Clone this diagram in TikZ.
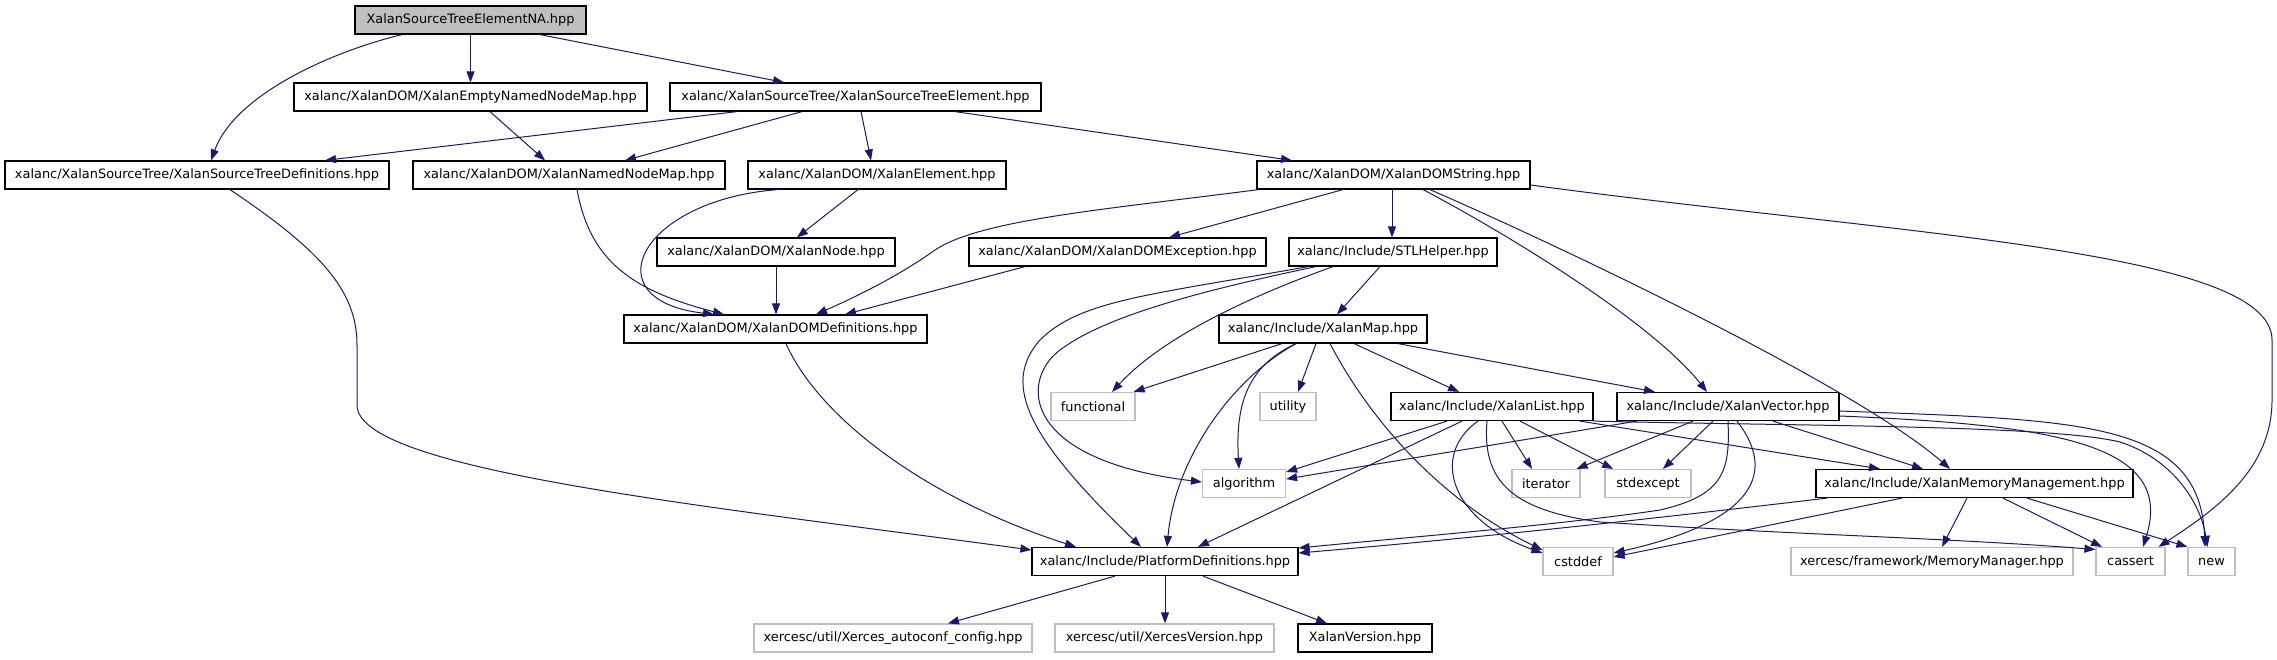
\documentclass[tikz,border=0pt]{standalone}
\usepackage{fontspec}
\setmainfont{DejaVu Sans}
\usetikzlibrary{arrows.meta}
\definecolor{edgec}{HTML}{191970}
\definecolor{graybd}{HTML}{BFBFBF}
\begin{document}
\begin{tikzpicture}[x=1pt,y=-1pt,
 hdr/.style={draw=black, line width=1.2pt, fill=white, minimum height=28pt, inner sep=0pt, font=\fontsize{12.9}{15}\selectfont},
 sys/.style={hdr, draw=graybd},
 rootbox/.style={hdr, fill=graybd},
 e/.style={draw=edgec, line width=1pt, -{Triangle[length=11pt,width=8pt]}}]
\useasboundingbox (0,0) rectangle (2277,659);

% nodes
\node[rootbox, minimum width=231pt] (root) at (470.5,20) {XalanSourceTreeElementNA.hpp};
\node[hdr, minimum width=353pt] (empty) at (470.5,97) {xalanc/XalanDOM/XalanEmptyNamedNodeMap.hpp};
\node[hdr, minimum width=371pt] (ste) at (855.5,97) {xalanc/XalanSourceTree/XalanSourceTreeElement.hpp};
\node[hdr, minimum width=384pt] (stdefs) at (197,175) {xalanc/XalanSourceTree/XalanSourceTreeDefinitions.hpp};
\node[hdr, minimum width=312pt] (nnm) at (569,175) {xalanc/XalanDOM/XalanNamedNodeMap.hpp};
\node[hdr, minimum width=258pt] (elem) at (877,175) {xalanc/XalanDOM/XalanElement.hpp};
\node[hdr, minimum width=273pt] (domstr) at (1393.5,175) {xalanc/XalanDOM/XalanDOMString.hpp};
\node[hdr, minimum width=238pt] (xnode) at (776,252) {xalanc/XalanDOM/XalanNode.hpp};
\node[hdr, minimum width=297pt] (domexc) at (1117.5,252) {xalanc/XalanDOM/XalanDOMException.hpp};
\node[hdr, minimum width=208pt] (stl) at (1393,252) {xalanc/Include/STLHelper.hpp};
\node[hdr, minimum width=303pt] (domdefs) at (775.5,329) {xalanc/XalanDOM/XalanDOMDefinitions.hpp};
\node[hdr, minimum width=208pt] (map) at (1323,329) {xalanc/Include/XalanMap.hpp};
\node[sys, minimum width=84pt] (functional) at (1093,406.5) {functional};
\node[sys, minimum width=56pt] (utility) at (1288,406.5) {utility};
\node[hdr, minimum width=202pt] (list) at (1492,406.5) {xalanc/Include/XalanList.hpp};
\node[hdr, minimum width=222pt] (vector) at (1728,406.5) {xalanc/Include/XalanVector.hpp};
\node[sys, minimum width=83pt] (algorithm) at (1244,483.5) {algorithm};
\node[sys, minimum width=68pt] (iterator) at (1546,483.5) {iterator};
\node[sys, minimum width=86pt] (stdexcept) at (1648,483.5) {stdexcept};
\node[hdr, minimum width=317pt] (memmgmt) at (1974.5,483.5) {xalanc/Include/XalanMemoryManagement.hpp};
\node[hdr, minimum width=266pt] (platform) at (1165,561.5) {xalanc/Include/PlatformDefinitions.hpp};
\node[sys, minimum width=70pt] (cstddef) at (1578,561.5) {cstddef};
\node[sys, minimum width=282pt] (memmgr) at (1932,561.5) {xercesc/framework/MemoryManager.hpp};
\node[sys, minimum width=69pt] (cassert) at (2130.5,561.5) {cassert};
\node[sys, minimum width=47pt] (newh) at (2211.5,561.5) {new};
\node[sys, minimum width=278pt] (autoconf) at (893,638) {xercesc/util/Xerces\_autoconf\_config.hpp};
\node[sys, minimum width=219pt] (xercesver) at (1164.5,638) {xercesc/util/XercesVersion.hpp};
\node[hdr, minimum width=134pt] (xalanver) at (1365,638) {XalanVersion.hpp};

% edges
\draw[e] ([xshift=-68.5pt]root.south) .. controls (330,52) and (235,95) .. ([xshift=14pt]stdefs.north);
\draw[e] (root.south) -- (empty.north);
\draw[e] ([xshift=69.5pt]root.south) -- ([xshift=-71.5pt]ste.north);
\draw[e] ([xshift=19.5pt]empty.south) -- ([xshift=-24pt]nnm.north);
\draw[e] ([xshift=-118.5pt]ste.south) -- ([xshift=128pt]stdefs.north);
\draw[e] ([xshift=-53.5pt]ste.south) -- ([xshift=56pt]nnm.north);
\draw[e] ([xshift=5.5pt]ste.south) -- ([xshift=-6pt]elem.north);
\draw[e] ([xshift=99.5pt]ste.south) -- ([xshift=-101.5pt]domstr.north);
\draw[e] ([xshift=33pt]stdefs.south) .. controls (320,250) and (357,290) .. (357,345) -- (357,405) .. controls (357,470) and (700,505) .. ([yshift=11.5pt]platform.west);
\draw[e] ([xshift=8pt]nnm.south) .. controls (590,260) and (630,290) .. ([xshift=-51.5pt]domdefs.north);
\draw[e] ([xshift=-99pt]elem.south) .. controls (640,200) and (590,300) .. ([xshift=-61.5pt]domdefs.north);
\draw[e] ([xshift=-19pt]elem.south) -- ([xshift=21pt]xnode.north);
\draw[e] (xnode.south) -- (xnode.south |- domdefs.north);
\draw[e] ([xshift=-135pt]domstr.south) .. controls (1100,210) and (980,220) .. (935,250) .. controls (900,275) and (860,295) .. ([xshift=40.5pt]domdefs.north);
\draw[e] ([xshift=-50.5pt]domstr.south) -- ([xshift=51.5pt]domexc.north);
\draw[e] ([xshift=-1.5pt]domstr.south) -- ([xshift=-1pt]stl.north);
\draw[e] ([xshift=29.5pt]domstr.south) .. controls (1500,230) and (1650,320) .. ([xshift=-21pt]vector.north);
\draw[e] ([xshift=36.5pt]domstr.south) .. controls (1580,255) and (1860,390) .. ([xshift=-24.5pt]memmgmt.north);
\draw[e] ([yshift=-10pt]domstr.east) .. controls (1900,235) and (2272,250) .. (2272,340) -- (2272,400) .. controls (2272,470) and (2215,510) .. ([xshift=28pt]cassert.north);
\draw[e] ([xshift=-92.5pt]domexc.south) -- ([xshift=69.5pt]domdefs.north);
\draw[e] ([xshift=-13pt]stl.south) -- ([xshift=14pt]map.north);
\draw[e] ([xshift=-60pt]stl.south) .. controls (1240,300) and (1160,340) .. ([xshift=19pt]functional.north);
\draw[e] ([xshift=-77pt]stl.south) .. controls (1180,295) and (1100,320) .. (1060,350) .. controls (1020,380) and (1020,460) .. ([yshift=1.5pt]algorithm.west);
\draw[e] ([xshift=-85pt]stl.south) .. controls (1150,295) and (1080,300) .. (1040,340) .. controls (1000,385) and (1030,440) .. ([xshift=-24pt]platform.north);
\draw[e] ([xshift=-41pt]map.south) -- ([xshift=-2pt]functional.north east);
\draw[e] ([xshift=-27pt]map.south) .. controls (1250,365) and (1235,400) .. ([xshift=-5pt]algorithm.north);
\draw[e] ([xshift=-27pt]map.south) .. controls (1230,380) and (1175,460) .. ([xshift=2pt]platform.north);
\draw[e] ([xshift=-7pt]map.south) -- ([xshift=10pt]utility.north);
\draw[e] ([xshift=7pt]map.south) .. controls (1370,420) and (1440,500) .. ([yshift=11.5pt]cstddef.west);
\draw[e] ([xshift=31pt]map.south) -- ([xshift=-33pt]list.north);
\draw[e] ([xshift=75pt]map.south) -- ([xshift=-73pt]vector.north);
\draw[e] ([xshift=10.5pt]domdefs.south) .. controls (820,420) and (930,500) .. ([xshift=-89pt]platform.north);
\draw[e] ([xshift=-45pt]list.south) -- ([yshift=11.5pt]algorithm.east);
\draw[e] ([xshift=-91pt]vector.south) -- ([yshift=4.5pt]algorithm.east);
\draw[e] ([xshift=-30pt]list.south) -- ([xshift=33pt]platform.north);
\draw[e] ([xshift=-14pt]list.south) .. controls (1430,455) and (1450,520) .. ([yshift=8.5pt]cstddef.west);
\draw[e] ([xshift=-5pt]list.south) .. controls (1482,480) and (1510,510) .. (1600,522) .. controls (1800,535) and (1950,538) .. ([yshift=12pt]cassert.west);
\draw[e] ([xshift=10pt]list.south) -- ([xshift=-14pt]iterator.north);
\draw[e] ([xshift=28pt]list.south) -- ([xshift=-35pt]stdexcept.north);
\draw[e] ([xshift=88pt]list.south) -- ([xshift=-94.5pt]memmgmt.north);
\draw[e] (list.south east) .. controls (1800,426) and (2050,425) .. (2120,442) .. controls (2170,458) and (2200,500) .. ([xshift=-4pt]newh.north);
\draw[e] ([xshift=-35pt]vector.south) -- ([xshift=-4pt]iterator.north east);
\draw[e] ([xshift=-15pt]vector.south) -- ([xshift=15pt]stdexcept.north);
\draw[e] (vector.south) .. controls (1730,470) and (1725,495) .. (1660,510) .. controls (1560,525) and (1400,538) .. ([yshift=13.5pt]platform.east);
\draw[e] ([xshift=9pt]vector.south) .. controls (1775,470) and (1760,520) .. ([yshift=8.5pt]cstddef.east);
\draw[e] ([xshift=45pt]vector.south) -- ([xshift=-51.5pt]memmgmt.north);
\draw[e] ([yshift=-9.5pt]vector.east) .. controls (2060,425) and (2175,445) .. ([xshift=12.5pt]cassert.north);
\draw[e] ([yshift=-4.5pt]vector.east) .. controls (2080,420) and (2200,420) .. ([xshift=-6.5pt]newh.north);
\draw[e] ([xshift=-147.5pt]memmgmt.south) .. controls (1600,525) and (1450,540) .. ([yshift=8.5pt]platform.east);
\draw[e] ([xshift=-72.5pt]memmgmt.south) -- ([yshift=4.5pt]cstddef.east);
\draw[e] ([xshift=-7.5pt]memmgmt.south) -- ([xshift=10pt]memmgr.north);
\draw[e] ([xshift=28.5pt]memmgmt.south) -- ([xshift=-28.5pt]cassert.north);
\draw[e] ([xshift=52.5pt]memmgmt.south) -- (newh.north west);
\draw[e] ([xshift=-50pt]platform.south) -- ([xshift=55pt]autoconf.north);
\draw[e] (platform.south) -- (platform.south |- xercesver.north);
\draw[e] ([xshift=38pt]platform.south) -- ([xshift=-38pt]xalanver.north);
\end{tikzpicture}
\end{document}
